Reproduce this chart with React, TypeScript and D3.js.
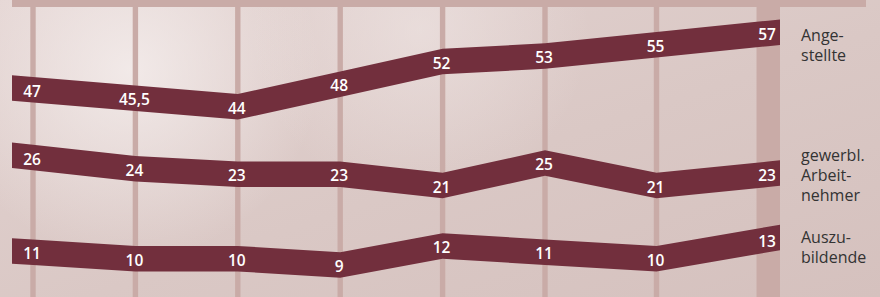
import React from "react";
import * as d3 from "d3";

// one value per column, left to right (no column labels in the original)
const columns = [0, 1, 2, 3, 4, 5, 6, 7];
const angestellte = [47, 45.5, 44, 48, 52, 53, 55, 57];
const arbeitnehmer = [26, 24, 23, 23, 21, 25, 21, 23];
const auszubildende = [11, 10, 10, 9, 12, 11, 10, 13];
const seriesNames = [
  ["Ange-", "stellte"],
  ["gewerbl.", "Arbeit-", "nehmer"],
  ["Auszu-", "bildende"],
];

const W = 880;
const H = 297;
const BAND = "#722f3d";
const GRID = "#c9aba7";
const bandLeft = 12;
const bandRight = 780;
const halfBand = 12.75;

// each band sits on its own (broken) axis
const yScales = [
  d3.scaleLinear().domain([44, 57]).range([106.7, 33.4]),
  d3.scaleLinear().domain([21, 26]).range([185.5, 157.5]),
  d3.scaleLinear().domain([9, 13]).range([265.1, 239.5]),
];
const labelBaselines = [41, 161, 242.5];

const fmt = (v: number) => String(v).replace(".", ",");

const App = () => {
  const x = d3.scaleLinear().domain([0, 5, 7]).range([33, 545, 768]);
  const series = [angestellte, arbeitnehmer, auszubildende];

  const area = d3
    .area<[number, number]>()
    .x(d => d[0])
    .y0(d => d[1] + halfBand)
    .y1(d => d[1] - halfBand)
    .curve(d3.curveLinear);

  const bandPoints = (values: number[], y: d3.ScaleLinear<number, number>) => {
    const pts: [number, number][] = values.map((v, i) => [x(columns[i]), y(v)]);
    const n = pts.length;
    // run the band out to the plot edges along the first / last segment
    const s0 = (pts[1][1] - pts[0][1]) / (pts[1][0] - pts[0][0]);
    const s1 = (pts[n - 1][1] - pts[n - 2][1]) / (pts[n - 1][0] - pts[n - 2][0]);
    return [
      [bandLeft, pts[0][1] + s0 * (bandLeft - pts[0][0])] as [number, number],
      ...pts,
      [bandRight, pts[n - 1][1] + s1 * (bandRight - pts[n - 1][0])] as [number, number],
    ];
  };

  return (
    <>
      <style>{`body{margin:0}`}</style>
      <svg width={W} height={H} style={{ display: "block" }}>
        <defs>
          <linearGradient id="bg" x1="0" y1="0" x2="1" y2="1">
            <stop offset="0%" stopColor="#e3d3d1" />
            <stop offset="55%" stopColor="#dac8c5" />
            <stop offset="100%" stopColor="#d5c1be" />
          </linearGradient>
          <radialGradient id="cloud1" cx="130" cy="70" r="190" gradientUnits="userSpaceOnUse">
            <stop offset="0%" stopColor="#f6f0ef" stopOpacity="0.8" />
            <stop offset="100%" stopColor="#f6f0ef" stopOpacity="0" />
          </radialGradient>
          <radialGradient id="cloud2" cx="420" cy="30" r="170" gradientUnits="userSpaceOnUse">
            <stop offset="0%" stopColor="#f3ebea" stopOpacity="0.5" />
            <stop offset="100%" stopColor="#f3ebea" stopOpacity="0" />
          </radialGradient>
        </defs>
        <rect width={W} height={H} fill="url(#bg)" />
        <rect width={W} height={H} fill="url(#cloud1)" />
        <rect width={W} height={H} fill="url(#cloud2)" />

        {/* top strip */}
        <rect x={bandLeft} y={0} width={866 - bandLeft} height={7} fill={GRID} />

        {/* column lines, the last column is highlighted */}
        {columns.slice(0, -1).map(c => (
          <rect key={c} x={x(c) - 2.7} y={7} width={5.4} height={H - 7} fill={GRID} />
        ))}
        <rect
          x={x(columns[columns.length - 1]) - 11.5}
          y={0}
          width={bandRight - x(columns[columns.length - 1]) + 11.5}
          height={H}
          fill={GRID}
        />

        {series.map((values, si) => (
          <g key={si}>
            <path d={area(bandPoints(values, yScales[si])) || ""} fill={BAND} />
            {values.map((v, i) => (
              <text
                key={i}
                x={x(columns[i]) - 1}
                y={yScales[si](v) + 7}
                textAnchor="middle"
                fill="#ffffff"
                fontFamily="'Open Sans', sans-serif"
                fontWeight={600}
                fontSize={15.5}
              >
                {fmt(v)}
              </text>
            ))}
            <text
              x={801}
              y={labelBaselines[si]}
              fill="#333333"
              fontFamily="'Open Sans', sans-serif"
              fontSize={16}
            >
              {seriesNames[si].map((line, li) => (
                <tspan key={li} x={801} dy={li === 0 ? 0 : 20}>
                  {line}
                </tspan>
              ))}
            </text>
          </g>
        ))}
      </svg>
    </>
  );
};

export default App;
